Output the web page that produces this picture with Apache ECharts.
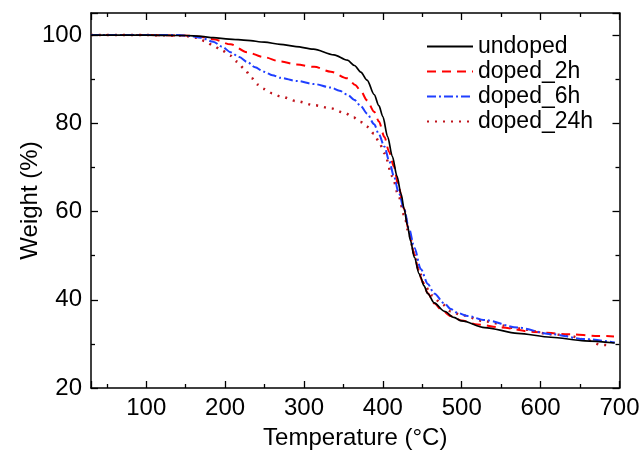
<!DOCTYPE html>
<html>
<head>
<meta charset="utf-8">
<script src="https://cdn.jsdelivr.net/npm/echarts@6/dist/echarts.min.js"></script>
<style>
html,body{margin:0;padding:0;background:#fff;}
#chart{width:644px;height:455px;}
</style>
</head>
<body>
<div id="chart"></div>
<script>
// Temperature (°C), Weight (%) pairs
var undoped = [[30,100],[100,100],[150,99.9],[170,99.7],[185,99.4],[205,99.1],[228,98.8],[250,98.4],[270,97.9],[290,97.4],[312,96.8],[338,95.5],[355,94.3],[364,93.1],[372,91.6],[380,89.8],[389,86.5],[395,84.0],[400,81.5],[406,77.0],[412,72.5],[418,68.0],[423,64.0],[427,60.6],[431,57.0],[435,53.4],[440,49.6],[446,45.9],[448,45.1],[452,43.2],[457,41.4],[465,39.3],[478,37.4],[490,36.0],[500,35.2],[529,33.7],[571,32.4],[613,31.5],[656,30.7],[694,30.2]];
var doped_2h = [[30,100],[100,100],[150,99.9],[168,99.6],[185,99.05],[207,97.9],[228,96.1],[249,95.0],[270,94.0],[291,93.3],[313,92.8],[334,91.7],[355,90.2],[365,88.7],[372,87.3],[380,85.2],[389,82.6],[395,80.4],[402,76.9],[408,73.5],[414,70.2],[420,65.5],[427,60.6],[433,55.5],[440,50.3],[445,46.8],[450,44.2],[457,41.5],[465,39.2],[475,37.6],[486,36.3],[500,35.3],[520,34.4],[550,33.7],[592,32.7],[635,32.2],[673,31.8],[693,31.7]];
var doped_6h = [[30,100],[100,100],[140,100],[155,99.8],[169,99.4],[185,98.5],[196,97.4],[207,96.1],[218,95.0],[228,93.9],[238,92.7],[249,91.7],[260,90.9],[270,90.3],[291,89.6],[313,88.9],[334,88.1],[345,87.4],[355,86.5],[364,85.3],[372,83.9],[380,82.2],[389,79.8],[395,77.5],[402,74.7],[408,71.5],[414,68.0],[420,64.3],[427,60.6],[433,56.2],[440,51.8],[448,47.0],[457,43.6],[465,41.4],[478,39.2],[486,37.9],[495,37.0],[508,36.3],[529,35.4],[571,33.7],[613,32.2],[656,31.1],[694,30.3]];
var doped_24h = [[30,100],[100,100],[140,99.9],[155,99.7],[164,99.4],[175,98.6],[185,97.6],[196,96.5],[207,95.3],[215,94.0],[224,92.4],[234,90.2],[241,88.8],[249,87.8],[260,86.8],[270,86.1],[291,85.0],[313,84.1],[334,83.4],[351,82.4],[363,81.3],[372,80.3],[380,79.2],[389,77.6],[395,75.8],[402,73.2],[412,68.0],[420,63.5],[427,59.2],[433,55.0],[440,50.3],[446,46.5],[452,43.6],[462,41.0],[474,39.2],[486,37.4],[500,36.5],[529,35.1],[571,33.5],[613,32.2],[635,31.9],[656,31.0],[677,29.8],[690,29.6]];
var seriesNames = ['undoped','doped_2h','doped_6h','doped_24h'];
var xName = 'Temperature (°C)';
var yName = 'Weight (%)';

var font = 'Liberation Sans, Arial, Helvetica, sans-serif';
var axisCommon = {
  axisLine:{show:true, onZero:false, lineStyle:{color:'#000', width:1.5}},
  axisTick:{show:true, inside:true, length:7, lineStyle:{color:'#000', width:1.3}},
  minorTick:{show:true, splitNumber:2, length:4, lineStyle:{color:'#000', width:1.3}},
  splitLine:{show:false},
  minorSplitLine:{show:false}
};
function ax(extra){ return Object.assign({}, JSON.parse(JSON.stringify(axisCommon)), extra); }

var chart = echarts.init(document.getElementById('chart'), null, {renderer:'canvas'});
chart.setOption({
  animation:false,
  backgroundColor:'#fff',
  textStyle:{fontFamily:font},
  grid:{left:91, right:24.5, top:13, bottom:58.3, containLabel:false},
  legend:{
    orient:'vertical', left:421, top:29, itemWidth:46, itemHeight:14, itemGap:0,
    itemStyle:{opacity:0},
    textStyle:{fontSize:23, color:'#000', fontFamily:font, lineHeight:25},
    data:seriesNames
  },
  xAxis:[
    ax({type:'value', min:30, max:700, splitNumber:7, position:'bottom',
      axisLabel:{show:true, fontSize:24, color:'#000', margin:8, showMinLabel:false, fontFamily:font},
      name:xName, nameLocation:'middle', nameGap:38, nameMoveOverlap:false,
      nameTextStyle:{fontSize:24, color:'#000', fontFamily:font}}),
    ax({type:'value', min:30, max:700, splitNumber:7, position:'top',
      axisLabel:{show:false}})
  ],
  yAxis:[
    ax({type:'value', min:20, max:105, interval:20, position:'left',
      axisLabel:{show:true, fontSize:24, color:'#000', margin:9, showMaxLabel:false, fontFamily:font},
      name:yName, nameLocation:'middle', nameGap:49, nameRotate:90, nameMoveOverlap:false,
      nameTextStyle:{fontSize:24, color:'#000', fontFamily:font}}),
    ax({type:'value', min:20, max:105, interval:20, position:'right',
      axisLabel:{show:false}})
  ],
  series:[
    {name:seriesNames[0], type:'line', data:undoped, symbol:'none', showSymbol:false, smooth:0.3, smoothMonotone:'x',
      lineStyle:{color:'#000', width:1.7, type:'solid'}, itemStyle:{color:'#000'}, z:4},
    {name:seriesNames[1], type:'line', data:doped_2h, symbol:'none', showSymbol:false, smooth:0.3, smoothMonotone:'x',
      lineStyle:{color:'#ff0000', width:2, type:[9,6]}, itemStyle:{color:'#ff0000'}, z:3},
    {name:seriesNames[2], type:'line', data:doped_6h, symbol:'none', showSymbol:false, smooth:0.3, smoothMonotone:'x',
      lineStyle:{color:'#1f3fff', width:2, type:[9,3,2,3]}, itemStyle:{color:'#1f3fff'}, z:3},
    {name:seriesNames[3], type:'line', data:doped_24h, symbol:'none', showSymbol:false, smooth:0.3, smoothMonotone:'x',
      lineStyle:{color:'#c0141c', width:2.5, type:[2,6]}, itemStyle:{color:'#c0141c'}, z:2}
  ]
});
</script>
</body>
</html>
